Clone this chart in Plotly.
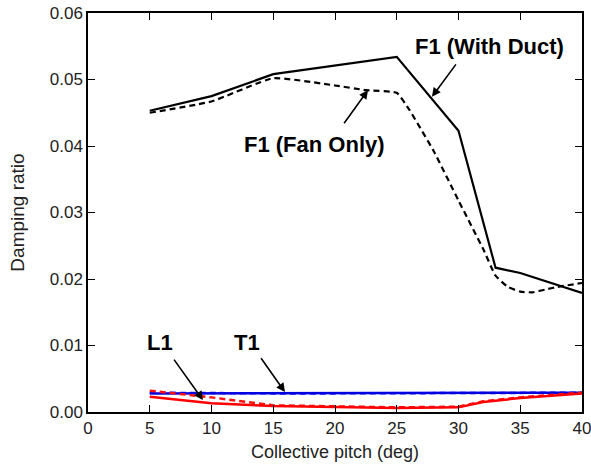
import plotly.graph_objects as go

# F1 with duct (solid black)
f1_duct_x = [5, 10, 15, 20, 25, 30, 33, 35, 40]
f1_duct_y = [0.0453, 0.0475, 0.0508, 0.0521, 0.0534, 0.0423, 0.0217, 0.0209, 0.0179]

# F1 fan only (dashed black)
f1_fan_x = [5, 10, 15, 20, 22.5, 25, 26, 28, 30, 32, 33, 34, 35, 36, 37, 38, 40]
f1_fan_y = [0.0450, 0.0467, 0.0502, 0.0491, 0.0484, 0.0480, 0.0455, 0.0392, 0.0318,
            0.0245, 0.0205, 0.0188, 0.0181, 0.0180, 0.0184, 0.0188, 0.0194]

# T1 (blue)
t1_duct_x = [5, 10, 15, 20, 25, 30, 35, 40]
t1_duct_y = [0.0028, 0.0028, 0.0028, 0.0028, 0.0028, 0.0028, 0.0028, 0.0029]
t1_fan_x = [5, 10, 15, 20, 25, 30, 35, 40]
t1_fan_y = [0.0029, 0.0028, 0.0028, 0.0028, 0.0028, 0.0029, 0.0029, 0.0029]

# L1 (red)
l1_duct_x = [5, 10, 15, 20, 25, 30, 32, 35, 40]
l1_duct_y = [0.0023, 0.0013, 0.0009, 0.0007, 0.0006, 0.0007, 0.0015, 0.0021, 0.0028]
l1_fan_x = [5, 10, 15, 20, 25, 30, 32, 35, 40]
l1_fan_y = [0.0032, 0.0022, 0.0010, 0.0008, 0.0007, 0.0008, 0.0016, 0.0022, 0.0029]

x_ticks = [0, 5, 10, 15, 20, 25, 30, 35, 40]
y_ticks = [0.00, 0.01, 0.02, 0.03, 0.04, 0.05, 0.06]

FONT = "Liberation Sans, Arial, sans-serif"

fig = go.Figure()
fig.add_trace(go.Scatter(x=t1_fan_x, y=t1_fan_y, mode="lines",
                         line=dict(color="#1a1aff", width=2.5, dash="6px,4px")))
fig.add_trace(go.Scatter(x=t1_duct_x, y=t1_duct_y, mode="lines",
                         line=dict(color="#0000e0", width=2.5)))
fig.add_trace(go.Scatter(x=l1_fan_x, y=l1_fan_y, mode="lines",
                         line=dict(color="#ff1010", width=2.5, dash="6px,4px")))
fig.add_trace(go.Scatter(x=l1_duct_x, y=l1_duct_y, mode="lines",
                         line=dict(color="#ff0000", width=2.5)))
fig.add_trace(go.Scatter(x=f1_fan_x, y=f1_fan_y, mode="lines",
                         line=dict(color="black", width=2.2, dash="6px,4px", shape="spline", smoothing=0.4)))
fig.add_trace(go.Scatter(x=f1_duct_x, y=f1_duct_y, mode="lines",
                         line=dict(color="black", width=2.2)))

afont = dict(family=FONT, size=22, color="black")

def label(text, x, y):
    fig.add_annotation(x=x, y=y, xref="x", yref="y", text="<b>%s</b>" % text,
                       showarrow=False, font=afont)

def arrow(hx, hy, tx, ty):
    fig.add_annotation(x=hx, y=hy, ax=tx, ay=ty, xref="x", yref="y", axref="x", ayref="y",
                       text="", showarrow=True, arrowhead=2, arrowsize=1.1,
                       arrowwidth=1.6, arrowcolor="black", standoff=0)

label("F1 (With Duct)", 32.55, 0.0549)
arrow(27.85, 0.0474, 29.88, 0.0525)
label("F1 (Fan Only)", 18.35, 0.0403)
arrow(22.67, 0.0484, 20.65, 0.0432)
label("L1", 5.83, 0.0104)
arrow(9.31, 0.0018, 6.88, 0.0081)
label("T1", 12.87, 0.0104)
arrow(15.95, 0.0030, 13.93, 0.0083)

axis_common = dict(showline=True, linecolor="black", linewidth=1.5, mirror="ticks",
                   ticks="inside", ticklen=7, tickwidth=1.3, tickcolor="black",
                   showgrid=False, zeroline=False, ticklabeloverflow="allow",
                   tickfont=dict(family=FONT, size=17, color="#222"))

fig.update_xaxes(range=[0, 40], tickvals=x_ticks, ticktext=[str(v) for v in x_ticks],
                 title=dict(text="Collective pitch (deg)", standoff=8,
                            font=dict(family=FONT, size=18, color="#222")),
                 **axis_common)
fig.update_yaxes(range=[0, 0.06], tickvals=y_ticks, ticktext=["%.2f" % v for v in y_ticks],
                 title=dict(text="Damping ratio", standoff=20,
                            font=dict(family=FONT, size=19, color="#222")),
                 **axis_common)

fig.update_layout(width=591, height=470, showlegend=False,
                  margin=dict(l=88, r=9, t=13, b=58, autoexpand=False),
                  plot_bgcolor="white", paper_bgcolor="white")

fig.write_html("out.html", config={"displayModeBar": False},
               post_script="document.body.style.margin='0';document.body.style.overflow='hidden';")
